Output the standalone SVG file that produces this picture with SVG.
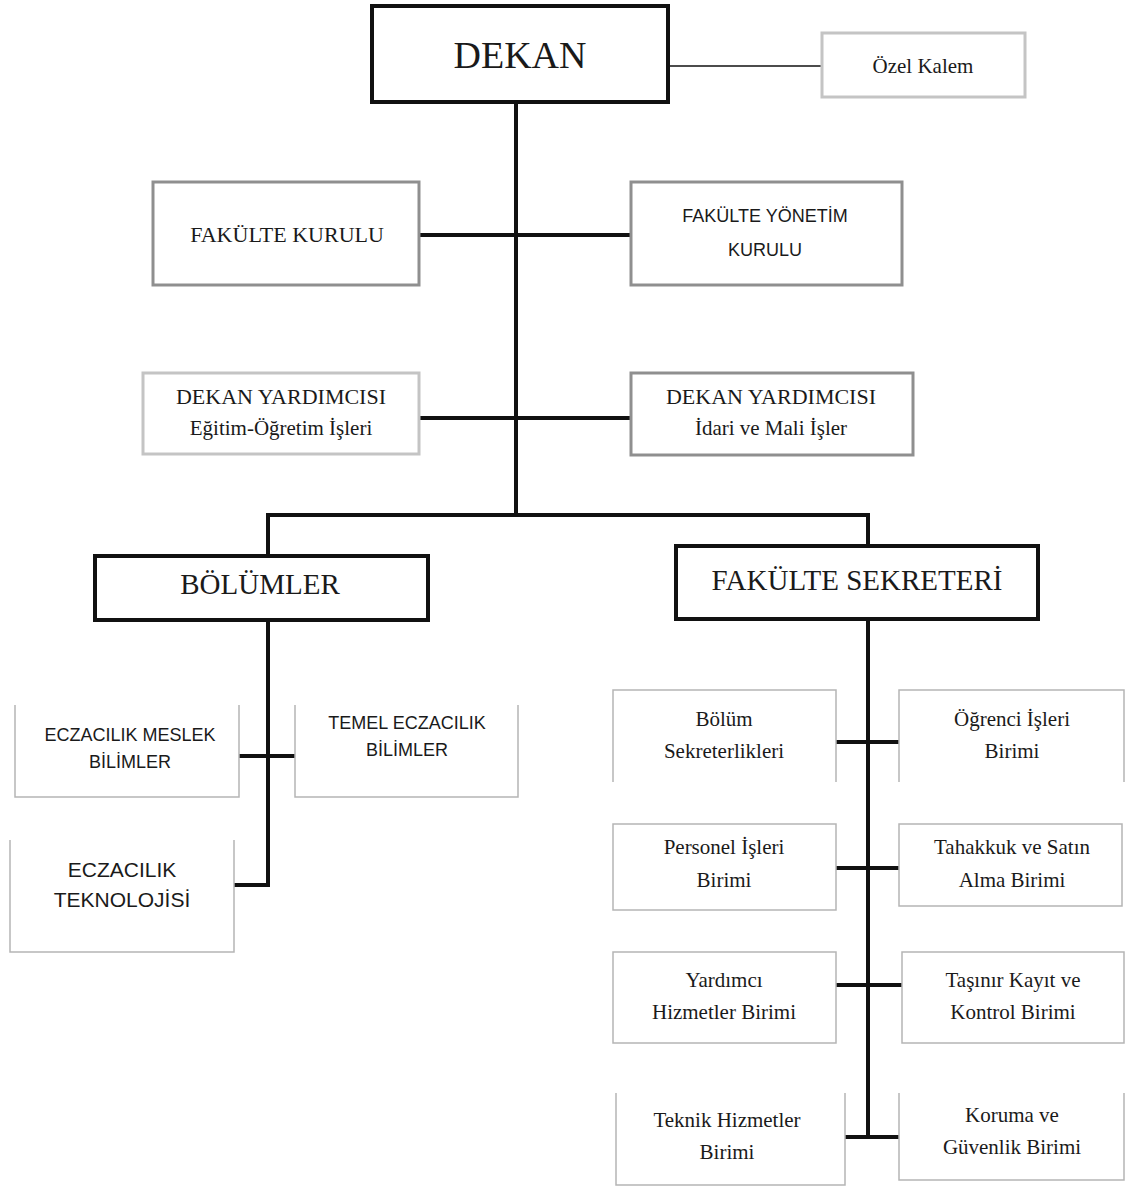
<svg xmlns="http://www.w3.org/2000/svg" width="1130" height="1191" viewBox="0 0 1130 1191">
<style>
.serif{font-family:"Liberation Serif","Times New Roman",serif;fill:#1a1a1a;text-anchor:middle}
.sans{font-family:"Liberation Sans",Arial,sans-serif;fill:#1a1a1a;text-anchor:middle}
.main{fill:#fff;stroke:#111;stroke-width:4}
.mid{fill:#fff;stroke:#8f8f8f;stroke-width:3}
.light{fill:#fff;stroke:#c4c4c4;stroke-width:3}
.thin{fill:none;stroke:#b5b5b5;stroke-width:1.5}
.conn{fill:none;stroke:#111;stroke-width:4}
</style>
<rect width="1130" height="1191" fill="#fff"/>
<g id="connectors">
<line x1="668" y1="66" x2="822" y2="66" stroke="#111" stroke-width="1.5"/>
<line x1="516" y1="102" x2="516" y2="517" class="conn" stroke-width="3.5"/>
<line x1="419" y1="235" x2="631" y2="235" class="conn"/>
<line x1="419" y1="418" x2="631" y2="418" class="conn"/>
<polyline points="268,556 268,515 868,515 868,546" class="conn"/>
<polyline points="268,620 268,885 234,885" class="conn"/>
<line x1="239" y1="756" x2="295" y2="756" class="conn"/>
<line x1="868" y1="619" x2="868" y2="1139" class="conn"/>
<line x1="836" y1="742" x2="899" y2="742" class="conn"/>
<line x1="836" y1="868" x2="899" y2="868" class="conn"/>
<line x1="836" y1="985" x2="902" y2="985" class="conn"/>
<line x1="845" y1="1137" x2="899" y2="1137" class="conn"/>
</g>
<g id="dekan"><rect x="372" y="6" width="296" height="96" class="main"/><text x="520" y="68" class="serif" font-size="38">DEKAN</text></g>
<g id="ozel-kalem"><rect x="822" y="33" width="203" height="64" class="light"/><text x="923" y="73" class="serif" font-size="21">Özel Kalem</text></g>
<g id="fakulte-kurulu"><rect x="153" y="182" width="266" height="103" class="mid"/><text x="287" y="242" class="serif" font-size="22">FAKÜLTE KURULU</text></g>
<g id="fakulte-yonetim-kurulu"><rect x="631" y="182" width="271" height="103" class="mid"/><text x="765" y="222" class="sans" font-size="18">FAKÜLTE YÖNETİM</text><text x="765" y="256" class="sans" font-size="18">KURULU</text></g>
<g id="dekan-yrd-egitim"><rect x="143" y="373" width="276" height="81" class="light"/><text x="281" y="404" class="serif" font-size="22">DEKAN YARDIMCISI</text><text x="281" y="435" class="serif" font-size="21">Eğitim-Öğretim İşleri</text></g>
<g id="dekan-yrd-idari"><rect x="631" y="373" width="282" height="82" class="mid" stroke="#a8a8a8"/><text x="771" y="404" class="serif" font-size="22">DEKAN YARDIMCISI</text><text x="771" y="435" class="serif" font-size="21">İdari ve Mali İşler</text></g>
<g id="bolumler"><rect x="95" y="556" width="333" height="64" class="main"/><text x="260" y="594" class="serif" font-size="29">BÖLÜMLER</text></g>
<g id="fakulte-sekreteri"><rect x="676" y="546" width="362" height="73" class="main"/><text x="857" y="590" class="serif" font-size="29">FAKÜLTE SEKRETERİ</text></g>
<g id="eczacilik-meslek"><path d="M15 705 V797 H239 V705" class="thin"/><text x="130" y="741" class="sans" font-size="18">ECZACILIK MESLEK</text><text x="130" y="768" class="sans" font-size="18">BİLİMLER</text></g>
<g id="temel-eczacilik"><path d="M295 705 V797 H518 V705" class="thin"/><text x="407" y="729" class="sans" font-size="18">TEMEL ECZACILIK</text><text x="407" y="756" class="sans" font-size="18">BİLİMLER</text></g>
<g id="eczacilik-teknolojisi"><path d="M10 840 V952 H234 V840" class="thin"/><text x="122" y="877" class="sans" font-size="21">ECZACILIK</text><text x="122" y="907" class="sans" font-size="21">TEKNOLOJİSİ</text></g>
<g id="bolum-sekreterlikleri"><path d="M613 782 V690 H836 V782" class="thin"/><text x="724" y="726" class="serif" font-size="21">Bölüm</text><text x="724" y="758" class="serif" font-size="21">Sekreterlikleri</text></g>
<g id="ogrenci-isleri"><path d="M899 782 V690 H1124 V782" class="thin"/><text x="1012" y="726" class="serif" font-size="21">Öğrenci İşleri</text><text x="1012" y="758" class="serif" font-size="21">Birimi</text></g>
<g id="personel-isleri"><rect x="613" y="824" width="223" height="86" class="thin"/><text x="724" y="854" class="serif" font-size="21">Personel İşleri</text><text x="724" y="887" class="serif" font-size="21">Birimi</text></g>
<g id="tahakkuk"><rect x="899" y="824" width="223" height="82" class="thin"/><text x="1012" y="854" class="serif" font-size="21">Tahakkuk ve Satın</text><text x="1012" y="887" class="serif" font-size="21">Alma Birimi</text></g>
<g id="yardimci-hizmetler"><rect x="613" y="952" width="223" height="91" class="thin"/><text x="724" y="987" class="serif" font-size="21">Yardımcı</text><text x="724" y="1019" class="serif" font-size="21">Hizmetler Birimi</text></g>
<g id="tasinir-kayit"><rect x="902" y="952" width="222" height="91" class="thin"/><text x="1013" y="987" class="serif" font-size="21">Taşınır Kayıt ve</text><text x="1013" y="1019" class="serif" font-size="21">Kontrol Birimi</text></g>
<g id="teknik-hizmetler"><path d="M616 1093 V1185 H845 V1093" class="thin"/><text x="727" y="1127" class="serif" font-size="21">Teknik Hizmetler</text><text x="727" y="1159" class="serif" font-size="21">Birimi</text></g>
<g id="koruma-guvenlik"><path d="M899 1093 V1180 H1124 V1093" class="thin"/><text x="1012" y="1122" class="serif" font-size="21">Koruma ve</text><text x="1012" y="1154" class="serif" font-size="21">Güvenlik Birimi</text></g>
</svg>
